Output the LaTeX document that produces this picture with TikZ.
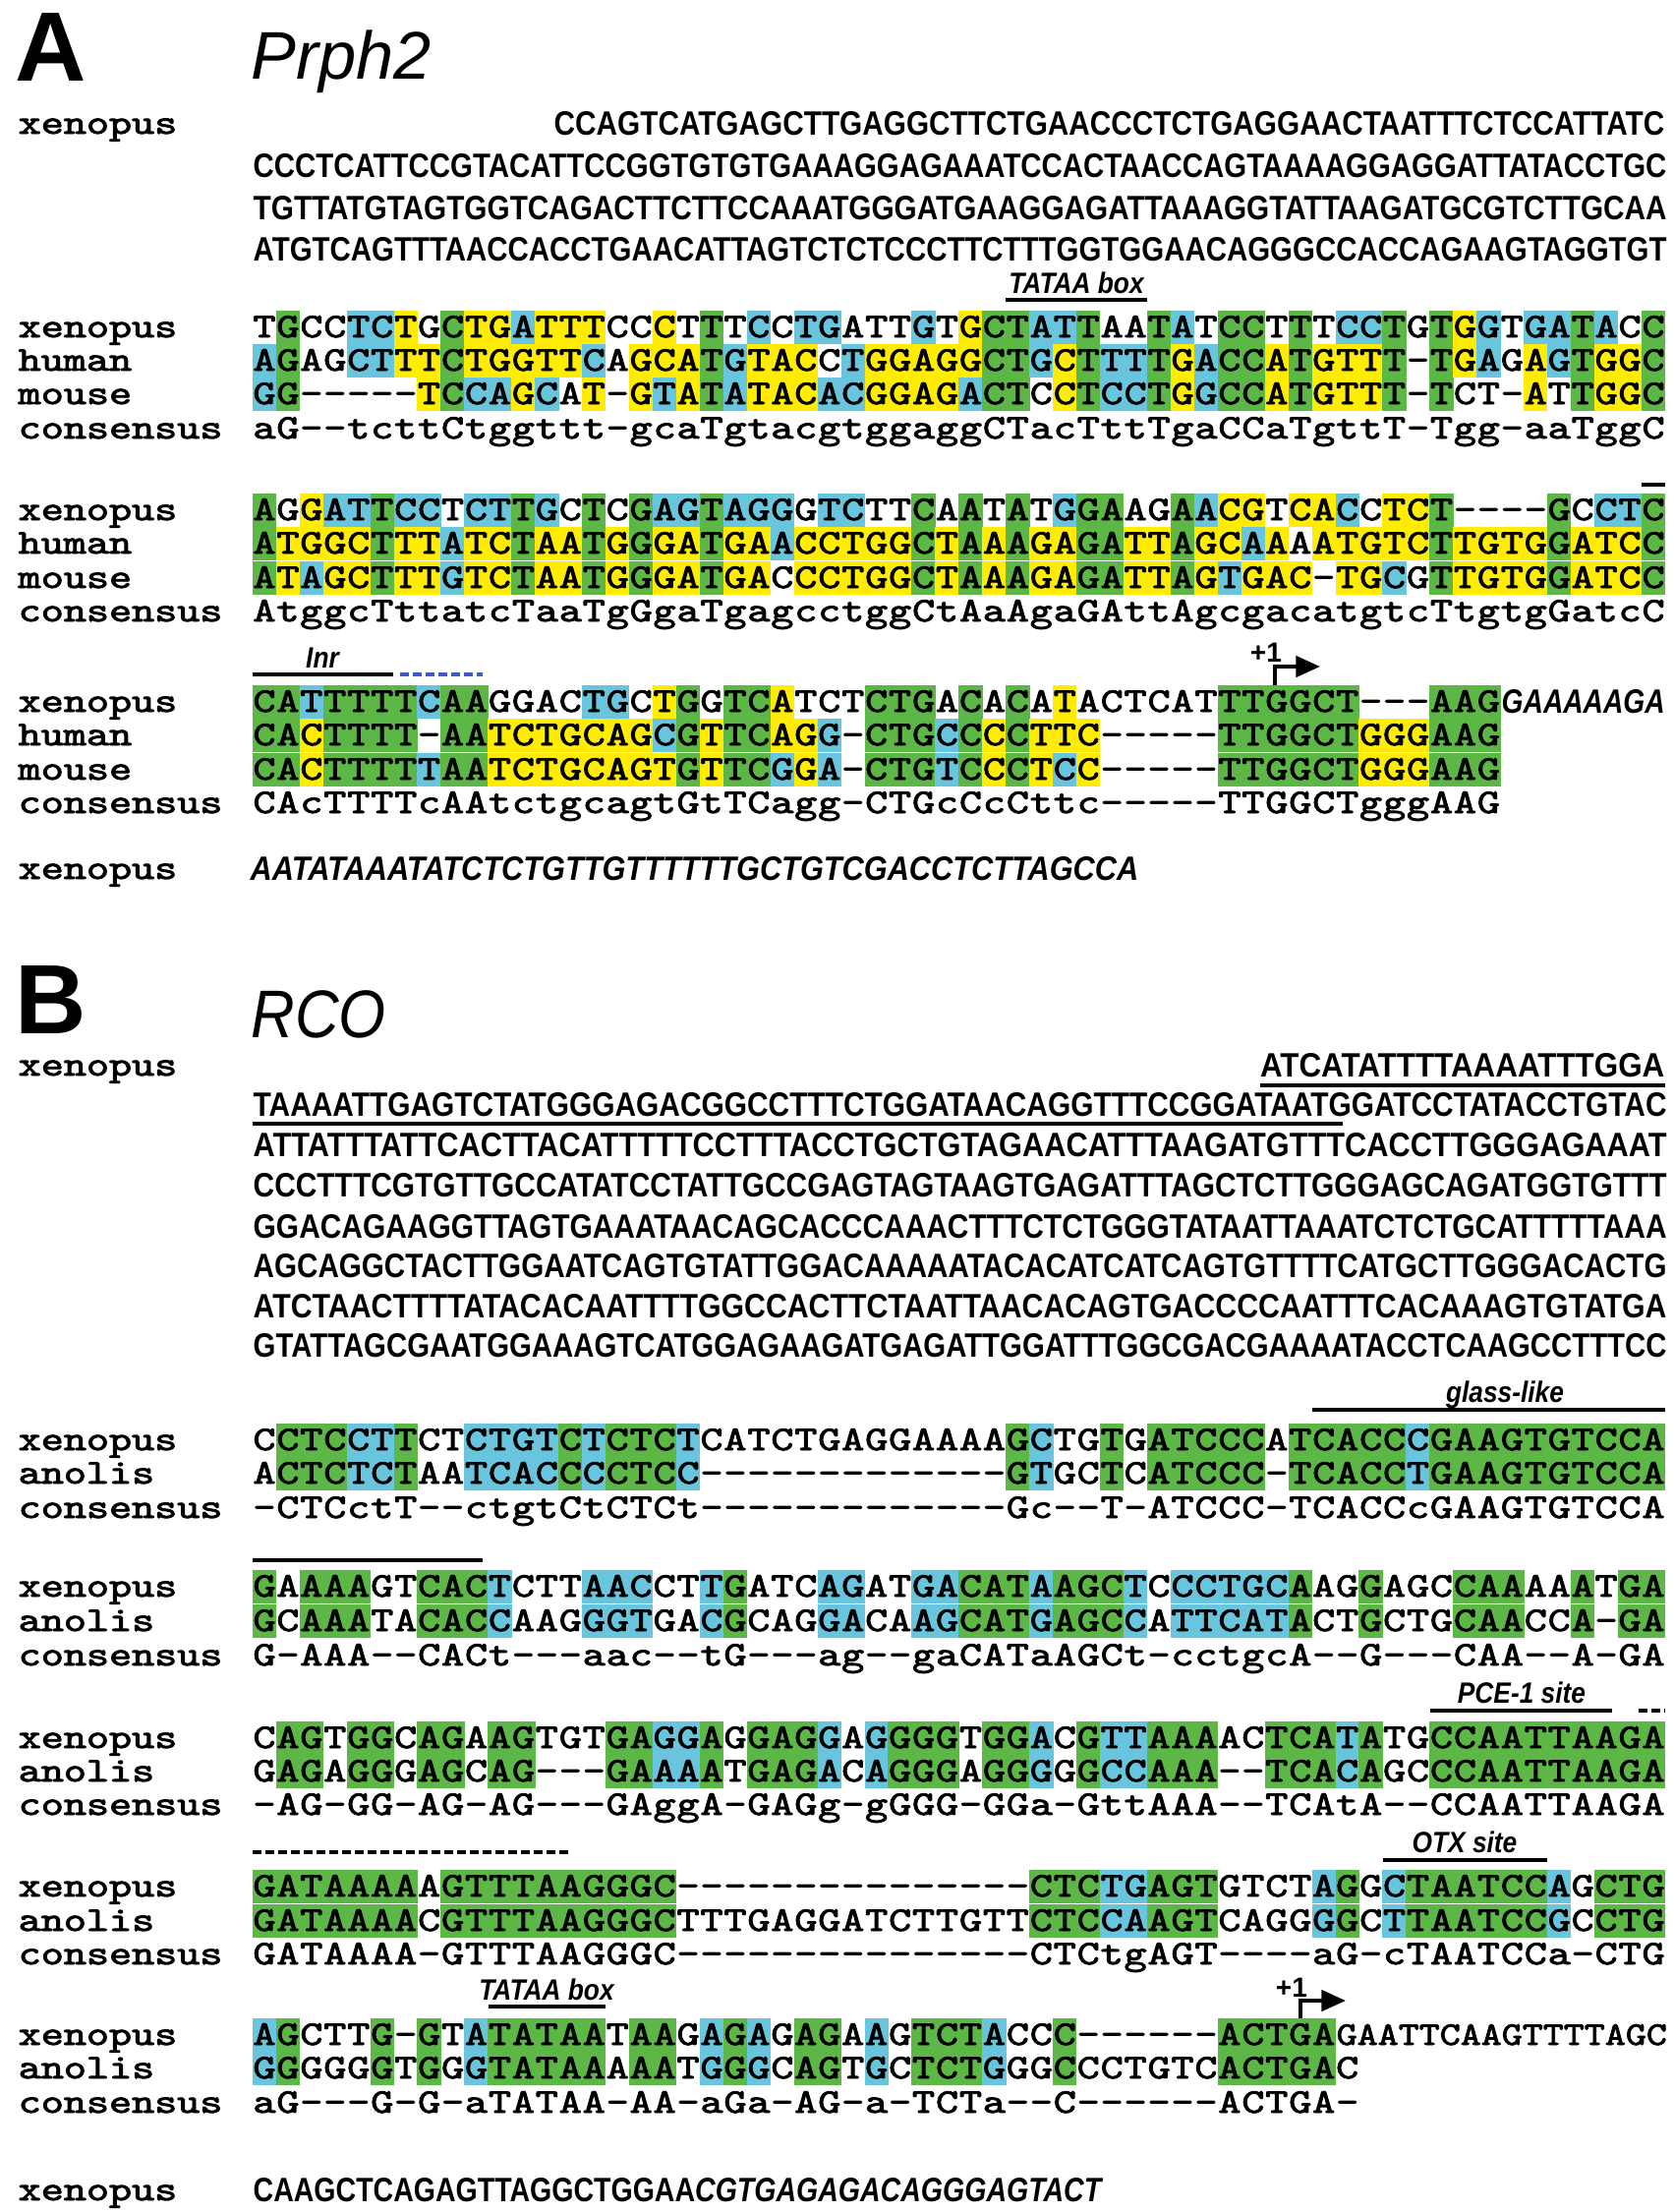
\documentclass[tikz,border=0pt]{standalone}
\usepackage{fontspec}
\setmainfont{Liberation Sans}
\newfontfamily\seqfont{lmmono10-regular.otf}[FakeBold=2.2]
\usepackage{graphicx}
\usetikzlibrary{arrows.meta}
\definecolor{identgreen}{RGB}{92,183,70}
\definecolor{simblue}{RGB}{104,197,221}
\definecolor{majyellow}{RGB}{255,236,0}
\definecolor{inrblue}{RGB}{60,90,200}
\tikzset{
	seqchar/.style={inner sep=0pt, anchor=base, text height=6pt, text depth=0.5pt, font=\seqfont\fontsize{10}{12}\selectfont},
	seqname/.style={inner sep=0pt, anchor=base west, text height=6pt, text depth=0.5pt, font=\seqfont\fontsize{10}{12}\selectfont},
	rawline/.style={inner sep=0pt, anchor=base west},
	panelletter/.style={inner sep=0pt, anchor=base west, font=\bfseries\fontsize{28.5}{30}\selectfont},
	genename/.style={inner sep=0pt, anchor=base west, font=\itshape\fontsize{19.5}{22}\selectfont},
	sitebar/.style={line width=1.2pt},
	sitedash/.style={line width=1.2pt, dash pattern=on 2.6pt off 1.1pt},
	sitelabel/.style={inner sep=0pt, anchor=base, font=\bfseries\itshape\fontsize{8.5}{10}\selectfont},
	tsslabel/.style={inner sep=0pt, font=\bfseries\fontsize{8}{9}\selectfont},
	startarrow/.style={line width=1.2pt, -{Triangle[length=7pt,width=6pt]}}
}

% residue classes for the shading
\def\clsA{pur}\def\clsG{pur}\def\clsC{pyr}\def\clsT{pyr}\def\clsx{nil}
\expandafter\def\csname cls-\endcsname{gap}
\expandafter\def\csname cls.\endcsname{gap}
\def\clsgap{gap}
\def\nobg{none}
\newcount\colno

\newcommand{\fitseq}[2]{\resizebox{#1}{0.24cm}{\bfseries #2}}
\newcommand{\sitetext}[1]{\scalebox{0.88}[1]{#1}}
\newcommand{\wide}[1]{\scalebox{1.25}[1]{#1}}

% one cell: row y, row tag, colour, letter
\newcommand{\cellat}[4]{%
	\edef\tmpbg{#3}%
	\ifx\tmpbg\nobg\else
	\fill[fill=\tmpbg] ({256.8+\the\colno*23.95},{#1-17.4}) rectangle ++(24.35,34.8);
	\fi
	\if#4.\else
	\node[seqchar] (\blk#2\the\colno) at ({257+(\the\colno+0.5)*23.95},{#1+10}) {\wide{#4}};
	\fi}

% colour of residue #1 against #2 and #3
\newcommand{\pickbg}[3]{%
	\def\bgcol{none}%
	\expandafter\let\expandafter\tmpca\csname cls#1\endcsname
	\expandafter\let\expandafter\tmpcb\csname cls#2\endcsname
	\expandafter\let\expandafter\tmpcc\csname cls#3\endcsname
	\ifx\tmpca\clsgap\else
	\ifx\tmpca\tmpcb\def\bgcol{simblue}\fi
	\ifx\tmpca\tmpcc\def\bgcol{simblue}\fi
	\if#1#2\def\bgcol{majyellow}\fi
	\if#1#3\def\bgcol{majyellow}\fi
	\fi}

\newcommand{\trio}[3]{%
	\def\allid{0}%
	\expandafter\let\expandafter\tmpca\csname cls#1\endcsname
	\ifx\tmpca\clsgap\else\if#1#2\if#1#3\def\allid{1}\fi\fi\fi
	\if\allid1%
	\cellat{\ya}{x}{identgreen}{#1}\cellat{\yb}{h}{identgreen}{#2}\cellat{\yc}{m}{identgreen}{#3}%
	\else
	\pickbg{#1}{#2}{#3}\cellat{\ya}{x}{\bgcol}{#1}%
	\pickbg{#2}{#1}{#3}\cellat{\yb}{h}{\bgcol}{#2}%
	\pickbg{#3}{#1}{#2}\cellat{\yc}{m}{\bgcol}{#3}%
	\fi
	\global\advance\colno by 1\relax}

\newcommand{\duo}[2]{%
	\def\allid{0}%
	\expandafter\let\expandafter\tmpca\csname cls#1\endcsname
	\ifx\tmpca\clsgap\else\if#1#2\def\allid{1}\fi\fi
	\if\allid1%
	\cellat{\ya}{x}{identgreen}{#1}\cellat{\yb}{a}{identgreen}{#2}%
	\else
	\pickbg{#1}{#2}{x}\cellat{\ya}{x}{\bgcol}{#1}%
	\pickbg{#2}{#1}{x}\cellat{\yb}{a}{\bgcol}{#2}%
	\fi
	\global\advance\colno by 1\relax}

\def\trioscan#1#2\stopseq#3#4\stopseq#5#6\stopseq{%
	\trio{#1}{#3}{#5}%
	\ifx\relax#2\relax\let\trionext\relax
	\else\def\trionext{\trioscan#2\stopseq#4\stopseq#6\stopseq}\fi
	\trionext}
\def\duoscan#1#2\stopseq#3#4\stopseq{%
	\duo{#1}{#3}%
	\ifx\relax#2\relax\let\duonext\relax
	\else\def\duonext{\duoscan#2\stopseq#4\stopseq}\fi
	\duonext}
\def\plainscan#1#2\stopseq{%
	\if#1.\else\node[seqchar] (\blk c\the\colno) at ({257+(\the\colno+0.5)*23.95},{\yc+10}) {\wide{#1}};\fi
	\global\advance\colno by 1\relax
	\ifx\relax#2\relax\let\plainnext\relax
	\else\def\plainnext{\plainscan#2\stopseq}\fi
	\plainnext}

\newcommand{\alntrio}[7]{\def\blk{#1}\def\ya{#2}\def\yb{#3}\def\yc{#4}\global\colno=0 \trioscan#5\stopseq#6\stopseq#7\stopseq}
\newcommand{\alnduo}[5]{\def\blk{#1}\def\ya{#2}\def\yb{#3}\global\colno=0 \duoscan#4\stopseq#5\stopseq}
\newcommand{\consrow}[3]{\def\blk{#1}\def\yc{#2}\global\colno=0 \plainscan#3\stopseq}

\begin{document}
\begin{tikzpicture}[x=0.01cm, y=-0.01cm]
	\useasboundingbox (0,0) rectangle (1703,2250);
	
	% Panel A
	\node[panelletter] (panelA) at (15,82) {A};
	\node[genename] (geneA) at (255,80) {Prph2};
	
	% upstream xenopus
	\node[seqname] (nmA0) at (18,136) {\wide{xenopus}};
	\node[rawline, anchor=base east] (upA0) at (1694,137) {\fitseq{11.29cm}{CCAGTCATGAGCTTGAGGCTTCTGAACCCTCTGAGGAACTAATTTCTCCATTATC}};
	\node[rawline] (upA1) at (257,180) {\fitseq{14.37cm}{CCCTCATTCCGTACATTCCGGTGTGTGAAAGGAGAAATCCACTAACCAGTAAAAGGAGGATTATACCTGC}};
	\node[rawline] (upA2) at (257,223) {\fitseq{14.37cm}{TGTTATGTAGTGGTCAGACTTCTTCCAAATGGGATGAAGGAGATTAAAGGTATTAAGATGCGTCTTGCAA}};
	\node[rawline] (upA3) at (257,265) {\fitseq{14.37cm}{ATGTCAGTTTAACCACCTGAACATTAGTCTCTCCCTTCTTTGGTGGAACAGGGCCACCAGAAGTAGGTGT}};
	
	% block 1
	\draw[sitebar] (1023,305) -- (1167,305);
	\node[sitelabel] (tataA) at (1095,298) {\sitetext{TATAA box}};
	\alntrio{A1}{333}{367}{401}{TGCCTCTGCTGATTTCCCTTTCCTGATTGTGCTATTAATATCCTTTCCTGTGGTGATACC}{AGAGCTTTCTGGTTCAGCATGTACCTGGAGGCTGCTTTTGACCATGTTT-TGAGAGTGGC}{GG-----TCCAGCAT-GTATATACACGGAGACTCCTCCTGGCCATGTTT-TCT-ATTGGC}
	\consrow{A1}{436}{aG--tcttCtggttt-gcaTgtacgtggaggCTacTttTgaCCaTgttT-Tgg-aaTggC}
	\node[seqname] (nmA1x) at (18,343) {\wide{xenopus}};
	\node[seqname] (nmA1h) at (18,377) {\wide{human}};
	\node[seqname] (nmA1m) at (18,411) {\wide{mouse}};
	\node[seqname] (nmA1c) at (18,446) {\wide{consensus}};
	
	% block 2
	\draw[sitebar] (1670,493) -- (1694,493);
	\alntrio{A2}{519}{553}{588}{AGGATTCCTCTTGCTCGAGTAGGGTCTTCAATATGGAAGAACGTCACCTCT----GCCTC}{ATGGCTTTATCTAATGGGATGAACCTGGCTAAAGAGATTAGCAAAATGTCTTGTGGATCC}{ATAGCTTTGTCTAATGGGATGACCCTGGCTAAAGAGATTAGTGAC-TGCGTTGTGGATCC}
	\consrow{A2}{622}{AtggcTttatcTaaTgGgaTgagcctggCtAaAgaGAttAgcgacatgtcTtgtgGatcC}
	\node[seqname] (nmA2x) at (18,529) {\wide{xenopus}};
	\node[seqname] (nmA2h) at (18,563) {\wide{human}};
	\node[seqname] (nmA2m) at (18,598) {\wide{mouse}};
	\node[seqname] (nmA2c) at (18,632) {\wide{consensus}};
	
	% block 3
	\draw[sitebar] (257,686) -- (400,686);
	\node[sitelabel] (inr) at (328,679) {\sitetext{Inr}};
	\draw[sitedash, inrblue] (407,686) -- (491,686);
	\coordinate (tssA) at (1297,697);
	\draw[startarrow] (tssA) |- (1343,678);
	\node[tsslabel] (plusA) at (1288,664) {+1};
	\alntrio{A3}{714}{748}{783}{CATTTTTCAAGGACTGCTGGTCATCTCTGACACATACTCATTTGGCT---AAG}{CACTTTT-AATCTGCAGCGTTCAGG-CTGCCCCTTC-----TTGGCTGGGAAG}{CACTTTTTAATCTGCAGTGTTCGGA-CTGTCCCTCC-----TTGGCTGGGAAG}
	\node[rawline] (tailA3) at (1527,725) {\fitseq{1.66cm}{\itshape GAAAAAGA}};
	\consrow{A3}{817}{CAcTTTTcAAtctgcagtGtTCagg-CTGcCcCttc-----TTGGCTgggAAG}
	\node[seqname] (nmA3x) at (18,724) {\wide{xenopus}};
	\node[seqname] (nmA3h) at (18,758) {\wide{human}};
	\node[seqname] (nmA3m) at (18,793) {\wide{mouse}};
	\node[seqname] (nmA3c) at (18,827) {\wide{consensus}};
	
	% downstream xenopus
	\node[seqname] (nmA4) at (18,894) {\wide{xenopus}};
	\node[rawline] (downA) at (254,895) {\fitseq{9.03cm}{\itshape AATATAAATATCTCTGTTGTTTTTTGCTGTCGACCTCTTAGCCA}};
	
	% Panel B
	\node[panelletter] (panelB) at (15,1051) {B};
	\node[genename] (geneB) at (255,1055) {\scalebox{0.9}[1]{RCO}};
	
	% upstream xenopus
	\node[seqname] (nmB0) at (18,1094) {\wide{xenopus}};
	\node[rawline, anchor=base east] (upB0) at (1694,1095) {\fitseq{4.11cm}{ATCATATTTTAAAATTTGGA}};
	\draw[sitebar] (1282,1104) -- (1694,1104);
	\node[rawline] (upB1) at (257,1135) {\fitseq{14.37cm}{TAAAATTGAGTCTATGGGAGACGGCCTTTCTGGATAACAGGTTTCCGGATAATGGATCCTATACCTGTAC}};
	\draw[sitebar] (257,1143) -- (1366,1143);
	\node[rawline] (upB2) at (257,1176) {\fitseq{14.37cm}{ATTATTTATTCACTTACATTTTTCCTTTACCTGCTGTAGAACATTTAAGATGTTTCACCTTGGGAGAAAT}};
	\node[rawline] (upB3) at (257,1217) {\fitseq{14.37cm}{CCCTTTCGTGTTGCCATATCCTATTGCCGAGTAGTAAGTGAGATTTAGCTCTTGGGAGCAGATGGTGTTT}};
	\node[rawline] (upB4) at (257,1259) {\fitseq{14.37cm}{GGACAGAAGGTTAGTGAAATAACAGCACCCAAACTTTCTCTGGGTATAATTAAATCTCTGCATTTTTAAA}};
	\node[rawline] (upB5) at (257,1299) {\fitseq{14.37cm}{AGCAGGCTACTTGGAATCAGTGTATTGGACAAAAATACACATCATCAGTGTTTTCATGCTTGGGACACTG}};
	\node[rawline] (upB6) at (257,1340) {\fitseq{14.37cm}{ATCTAACTTTTATACACAATTTTGGCCACTTCTAATTAACACAGTGACCCCAATTTCACAAAGTGTATGA}};
	\node[rawline] (upB7) at (257,1380) {\fitseq{14.37cm}{GTATTAGCGAATGGAAAGTCATGGAGAAGATGAGATTGGATTTGGCGACGAAAATACCTCAAGCCTTTCC}};
	
	% block 1
	\draw[sitebar] (1335,1434) -- (1694,1434);
	\node[sitelabel] (glass) at (1531,1426) {\sitetext{glass-like}};
	\alnduo{B1}{1465}{1499}{CCTCCTTCTCTGTCTCTCTCATCTGAGGAAAAGCTGTGATCCCATCACCCGAAGTGTCCA}{ACTCTCTAATCACCCCTCC-------------GTGCTCATCCC-TCACCTGAAGTGTCCA}
	\consrow{B1}{1534}{-CTCctT--ctgtCtCTCt-------------Gc--T-ATCCC-TCACCcGAAGTGTCCA}
	\node[seqname] (nmB1x) at (18,1475) {\wide{xenopus}};
	\node[seqname] (nmB1a) at (18,1509) {\wide{anolis}};
	\node[seqname] (nmB1c) at (18,1544) {\wide{consensus}};
	
	% block 2
	\draw[sitebar] (257,1587) -- (491,1587);
	\alnduo{B2}{1614}{1649}{GAAAAGTCACTCTTAACCTTGATCAGATGACATAAGCTCCCTGCAAGGAGCCAAAAATGA}{GCAAATACACCAAGGGTGACGCAGGACAAGCATGAGCCATTCATACTGCTGCAACCA-GA}
	\consrow{B2}{1684}{G-AAA--CACt---aac--tG---ag--gaCATaAGCt-cctgcA--G---CAA--A-GA}
	\node[seqname] (nmB2x) at (18,1624) {\wide{xenopus}};
	\node[seqname] (nmB2a) at (18,1659) {\wide{anolis}};
	\node[seqname] (nmB2c) at (18,1694) {\wide{consensus}};
	
	% block 3
	\draw[sitebar] (1455,1740) -- (1640,1740);
	\node[sitelabel] (pce) at (1548,1732) {\sitetext{PCE-1 site}};
	\draw[sitedash] (1667,1740) -- (1694,1740);
	\alnduo{B3}{1768}{1802}{CAGTGGCAGAAGTGTGAGGAGGAGGAGGGGTGGACGTTAAAACTCATATGCCAATTAAGA}{GAGAGGGAGCAG---GAAAATGAGACAGGGAGGGGGCCAAA--TCACAGCCCAATTAAGA}
	\consrow{B3}{1836}{-AG-GG-AG-AG---GAggA-GAGg-gGGG-GGa-GttAAA--TCAtA--CCAATTAAGA}
	\node[seqname] (nmB3x) at (18,1778) {\wide{xenopus}};
	\node[seqname] (nmB3a) at (18,1812) {\wide{anolis}};
	\node[seqname] (nmB3c) at (18,1846) {\wide{consensus}};
	
	% block 4
	\draw[sitedash] (257,1884) -- (581,1884);
	\draw[sitebar] (1407,1892) -- (1574,1892);
	\node[sitelabel] (otx) at (1490,1884) {\sitetext{OTX site}};
	\alnduo{B4}{1919}{1954}{GATAAAAAGTTTAAGGGC---------------CTCTGAGTGTCTAGGCTAATCCAGCTG}{GATAAAACGTTTAAGGGCTTTGAGGATCTTGTTCTCCAAGTCAGGGGCTTAATCCGCCTG}
	\consrow{B4}{1988}{GATAAAA-GTTTAAGGGC---------------CTCtgAGT----aG-cTAATCCa-CTG}
	\node[seqname] (nmB4x) at (18,1929) {\wide{xenopus}};
	\node[seqname] (nmB4a) at (18,1964) {\wide{anolis}};
	\node[seqname] (nmB4c) at (18,1998) {\wide{consensus}};
	
	% block 5
	\draw[sitebar] (497,2041) -- (616,2041);
	\node[sitelabel] (tataB) at (556,2034) {\sitetext{TATAA box}};
	\coordinate (tssB) at (1323,2053);
	\draw[startarrow] (tssB) |- (1369,2035);
	\node[tsslabel] (plusB) at (1314,2022) {+1};
	\alnduo{B5}{2070}{2104}{AGCTTG-GTATATAATAAGAGAGAGAAGTCTACCC------ACTGA.}{GGGGGGTGGGTATAAAAATGGGCAGTGCTCTGGGCCCTGTCACTGAC}
	\node[rawline] (tailB5) at (1359,2080) {\resizebox{3.36cm}{0.21cm}{\seqfont GAATTCAAGTTTTAGC}};
	\consrow{B5}{2139}{aG---G-G-aTATAA-AA-aGa-AG-a-TCTa--C------ACTGA-}
	\node[seqname] (nmB5x) at (18,2080) {\wide{xenopus}};
	\node[seqname] (nmB5a) at (18,2114) {\wide{anolis}};
	\node[seqname] (nmB5c) at (18,2149) {\wide{consensus}};
	
	% downstream xenopus
	\node[seqname] (nmB6) at (18,2238) {\wide{xenopus}};
	\node[rawline] (downB) at (257,2239) {\fitseq{8.62cm}{CAAGCTCAGAGTTAGGCTGGAA\itshape CGTGAGAGACAGGGAGTACT}};
	
\end{tikzpicture}
\end{document}
